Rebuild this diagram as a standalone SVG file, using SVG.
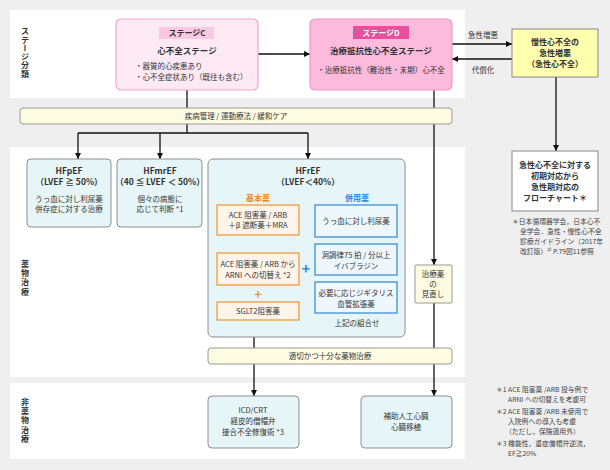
<svg xmlns="http://www.w3.org/2000/svg" width="610" height="470" viewBox="0 0 610 470">
<defs>
<marker id="ahw" viewBox="0 0 10 10" refX="10" refY="5" markerWidth="6" markerHeight="6" orient="auto" markerUnits="userSpaceOnUse"><path d="M0,0 L10,5 L0,10 z" fill="#111"/></marker>
<marker id="aho" viewBox="0 0 10 10" refX="10" refY="5" markerWidth="5" markerHeight="5" orient="auto" markerUnits="userSpaceOnUse"><path d="M0,0 L10,5 L0,10 z" fill="#f39a3b"/></marker>
<style>
text{font-family:"Noto Sans CJK JP","Noto Sans",sans-serif;fill:#333;font-size:7.5px}
.c{text-anchor:middle}
.b{font-weight:bold}
.t{font-size:8.5px;font-weight:bold}
.side{font-size:8px;font-weight:bold;writing-mode:vertical-rl;letter-spacing:0.6px}
.note{font-size:6.8px;fill:#444}
.ln{stroke:#111;stroke-width:1.3;fill:none}
.lna{stroke:#111;stroke-width:1.3;fill:none;marker-end:url(#ahw)}
.cy{fill:#e6f5f7;stroke:#8f8f8f;stroke-width:1}
.bar{fill:#fdfbe2;stroke:#999;stroke-width:1}
.ob{fill:#fff4ea;stroke:#f39a3b;stroke-width:1.3}
.bb{fill:#eef7fc;stroke:#3f8fdc;stroke-width:1.3}
.ot{fill:#f08a24;font-weight:bold;font-size:8px}
.bt{fill:#2e86de;font-weight:bold;font-size:8px}
</style>
</defs>
<rect x="0" y="0" width="610" height="470" fill="#efefef"/>
<rect x="10" y="10" width="455" height="88" fill="#fff"/>
<rect x="10" y="147" width="455" height="230" fill="#fff"/>
<rect x="10" y="383" width="455" height="76" fill="#fff"/>
<g id="side-labels">
<text class="side" x="25" y="27">ステージ分類</text>
<text class="side" x="25" y="260" style="letter-spacing:1.2px">薬物治療</text>
<text class="side" x="25" y="398" style="letter-spacing:1.2px">非薬物治療</text>
</g>
<g id="connectors">
<line class="lna" x1="258" y1="54" x2="310" y2="54"/>
<line class="lna" x1="452" y1="44" x2="512" y2="44"/>
<line class="lna" x1="512" y1="59" x2="452" y2="59"/>
<line class="lna" x1="556" y1="77" x2="556" y2="151"/>
<line class="ln" x1="187" y1="90" x2="187" y2="133"/>
<line class="ln" x1="78" y1="133" x2="308" y2="133"/>
<line class="lna" x1="78" y1="133" x2="78" y2="159"/>
<line class="lna" x1="160" y1="133" x2="160" y2="159"/>
<line class="lna" x1="308" y1="133" x2="308" y2="159"/>
<line class="lna" x1="434" y1="90" x2="434" y2="265"/>
<line class="ln" x1="434" y1="303" x2="434" y2="348"/>
<line class="lna" x1="434" y1="364" x2="434" y2="396"/>
<line class="ln" x1="254" y1="337" x2="254" y2="348"/>
<line class="lna" x1="254" y1="364" x2="254" y2="396"/>
<line x1="258" y1="235" x2="258" y2="253" stroke="#f39a3b" stroke-width="1.3" marker-end="url(#aho)"/>
</g>
<g id="edge-labels">
<text class="c" x="483" y="38">急性増悪</text>
<text class="c" x="483" y="73">代償化</text>
</g>
<g id="stageC">
<rect x="116" y="19" width="142" height="71" rx="5" fill="#fde9f4" stroke="#f2a5cc" stroke-width="1.2"/>
<rect x="159" y="27" width="55" height="12" fill="#f9c9e2"/>
<text class="c b" x="187" y="36" style="font-size:8px">ステージC</text>
<text class="c t" x="187" y="54">心不全ステージ</text>
<text x="135" y="69">・器質的心疾患あり</text>
<text x="135" y="80">・心不全症状あり（既往も含む）</text>
</g>
<g id="stageD">
<rect x="310" y="19" width="142" height="71" rx="5" fill="#fcbadd" stroke="#ee9ac6" stroke-width="1.2"/>
<rect x="353" y="26" width="56" height="13" fill="#e8509e"/>
<text class="c b" x="381" y="36" style="fill:#fff;font-size:8px">ステージD</text>
<text class="c t" x="381" y="54">治療抵抗性心不全ステージ</text>
<text class="c" x="381" y="73">・治療抵抗性（難治性・末期）心不全</text>
</g>
<g id="acute">
<rect x="512" y="29" width="86" height="48" fill="#ffffae" stroke="#888" stroke-width="1"/>
<text class="c b" x="555" y="45" style="font-size:8px">慢性心不全の</text>
<text class="c b" x="555" y="56" style="font-size:8px">急性増悪</text>
<text class="c b" x="555" y="67" style="font-size:8px">（急性心不全）</text>
</g>
<g id="flowchart">
<rect x="512" y="151" width="86" height="60" fill="#fff" stroke="#888" stroke-width="1"/>
<text class="c b" x="555" y="168" style="font-size:8px">急性心不全に対する</text>
<text class="c b" x="555" y="179" style="font-size:8px">初期対応から</text>
<text class="c b" x="555" y="190" style="font-size:8px">急性期対応の</text>
<text class="c b" x="555" y="201" style="font-size:8px">フローチャート＊</text>
<text class="note" x="512" y="224">＊日本循環器学会，日本心不</text>
<text class="note" x="520" y="234">全学会．急性・慢性心不全</text>
<text class="note" x="520" y="244">診療ガイドライン（2017年</text>
<text class="note" x="520" y="254">改訂版）²⁾ P.79図11参照</text>
</g>
<g id="bar1">
<rect class="bar" x="20" y="108" width="432" height="16" rx="3"/>
<text class="c" x="236" y="119">疾病管理 / 運動療法 / 緩和ケア</text>
</g>
<g id="hfpef">
<rect class="cy" x="27" y="159" width="84" height="68" rx="4"/>
<text class="c t" x="69" y="174">HFpEF</text>
<text class="c t" x="69" y="185">（LVEF ≧ 50%）</text>
<text class="c" x="69" y="202">うっ血に対し利尿薬</text>
<text class="c" x="69" y="212">併存症に対する治療</text>
</g>
<g id="hfmref">
<rect class="cy" x="117" y="159" width="85" height="68" rx="4"/>
<text class="c t" x="160" y="174">HFmrEF</text>
<text class="c t" x="160" y="185">（40 ≦ LVEF ＜ 50%）</text>
<text class="c" x="160" y="202">個々の病態に</text>
<text class="c" x="160" y="212">応じて判断 *1</text>
</g>
<g id="hfref">
<rect class="cy" x="208" y="159" width="197" height="178" rx="5"/>
<text class="c t" x="308" y="174">HFrEF</text>
<text class="c t" x="308" y="185">（LVEF＜40%）</text>
<text class="c ot" x="258" y="201">基本薬</text>
<text class="c bt" x="357" y="201">併用薬</text>
</g>
<g id="basic1">
<rect class="ob" x="217" y="205" width="82" height="30"/>
<text class="c" x="258" y="218">ACE 阻害薬 / ARB</text>
<text class="c" x="258" y="228">＋β 遮断薬＋MRA</text>
</g>
<g id="basic2">
<rect class="ob" x="217" y="253" width="82" height="32"/>
<text class="c" x="258" y="267">ACE 阻害薬 / ARB から</text>
<text class="c" x="258" y="278">ARNI への切替え *2</text>
</g>
<text class="c" x="258" y="299" style="fill:#f39a3b;font-size:13px;font-weight:bold">+</text>
<g id="basic3">
<rect class="ob" x="217" y="302" width="82" height="18"/>
<text class="c" x="258" y="314">SGLT2阻害薬</text>
</g>
<text class="c" x="306" y="274" style="fill:#2e86de;font-size:14px;font-weight:bold">+</text>
<g id="add1">
<rect class="bb" x="315" y="205" width="82" height="32"/>
<text class="c" x="356" y="224">うっ血に対し利尿薬</text>
</g>
<g id="add2">
<rect class="bb" x="315" y="244" width="82" height="31"/>
<text class="c" x="356" y="258">洞調律75 拍 / 分以上</text>
<text class="c" x="356" y="269">イバブラジン</text>
</g>
<g id="add3">
<rect class="bb" x="315" y="282" width="82" height="31"/>
<text class="c" x="356" y="296">必要に応じジギタリス</text>
<text class="c" x="356" y="307">血管拡張薬</text>
</g>
<text class="c" x="357" y="326">上記の組合せ</text>
<g id="review">
<rect class="bar" x="415" y="265" width="37" height="38" rx="1"/>
<text class="c" x="433" y="277">治療薬</text>
<text class="c" x="433" y="287">の</text>
<text class="c" x="433" y="297">見直し</text>
</g>
<g id="bar2">
<rect class="bar" x="208" y="348" width="244" height="16" rx="3"/>
<text class="c" x="330" y="359">適切かつ十分な薬物治療</text>
</g>
<g id="icd">
<rect class="cy" x="208" y="396" width="91" height="52" rx="4"/>
<text class="c" x="253" y="413">ICD/CRT</text>
<text class="c" x="253" y="424">経皮的僧帽弁</text>
<text class="c" x="253" y="435">接合不全修復術 *3</text>
</g>
<g id="vad">
<rect class="cy" x="361" y="396" width="91" height="52" rx="4"/>
<text class="c" x="406" y="419">補助人工心臓</text>
<text class="c" x="406" y="430">心臓移植</text>
</g>
<g id="footnotes">
<text class="note" x="496" y="392">＊1 ACE 阻害薬 /ARB 投与例で</text>
<text class="note" x="508" y="402">ARNI への切替えを考慮可</text>
<text class="note" x="496" y="414">＊2 ACE 阻害薬 /ARB 未使用で</text>
<text class="note" x="508" y="424">入院例への導入も考慮</text>
<text class="note" x="505" y="434">（ただし，保険適用外）</text>
<text class="note" x="496" y="446">＊3 機能性，重症僧帽弁逆流，</text>
<text class="note" x="508" y="456">EF≧20%</text>
</g>
</svg>
